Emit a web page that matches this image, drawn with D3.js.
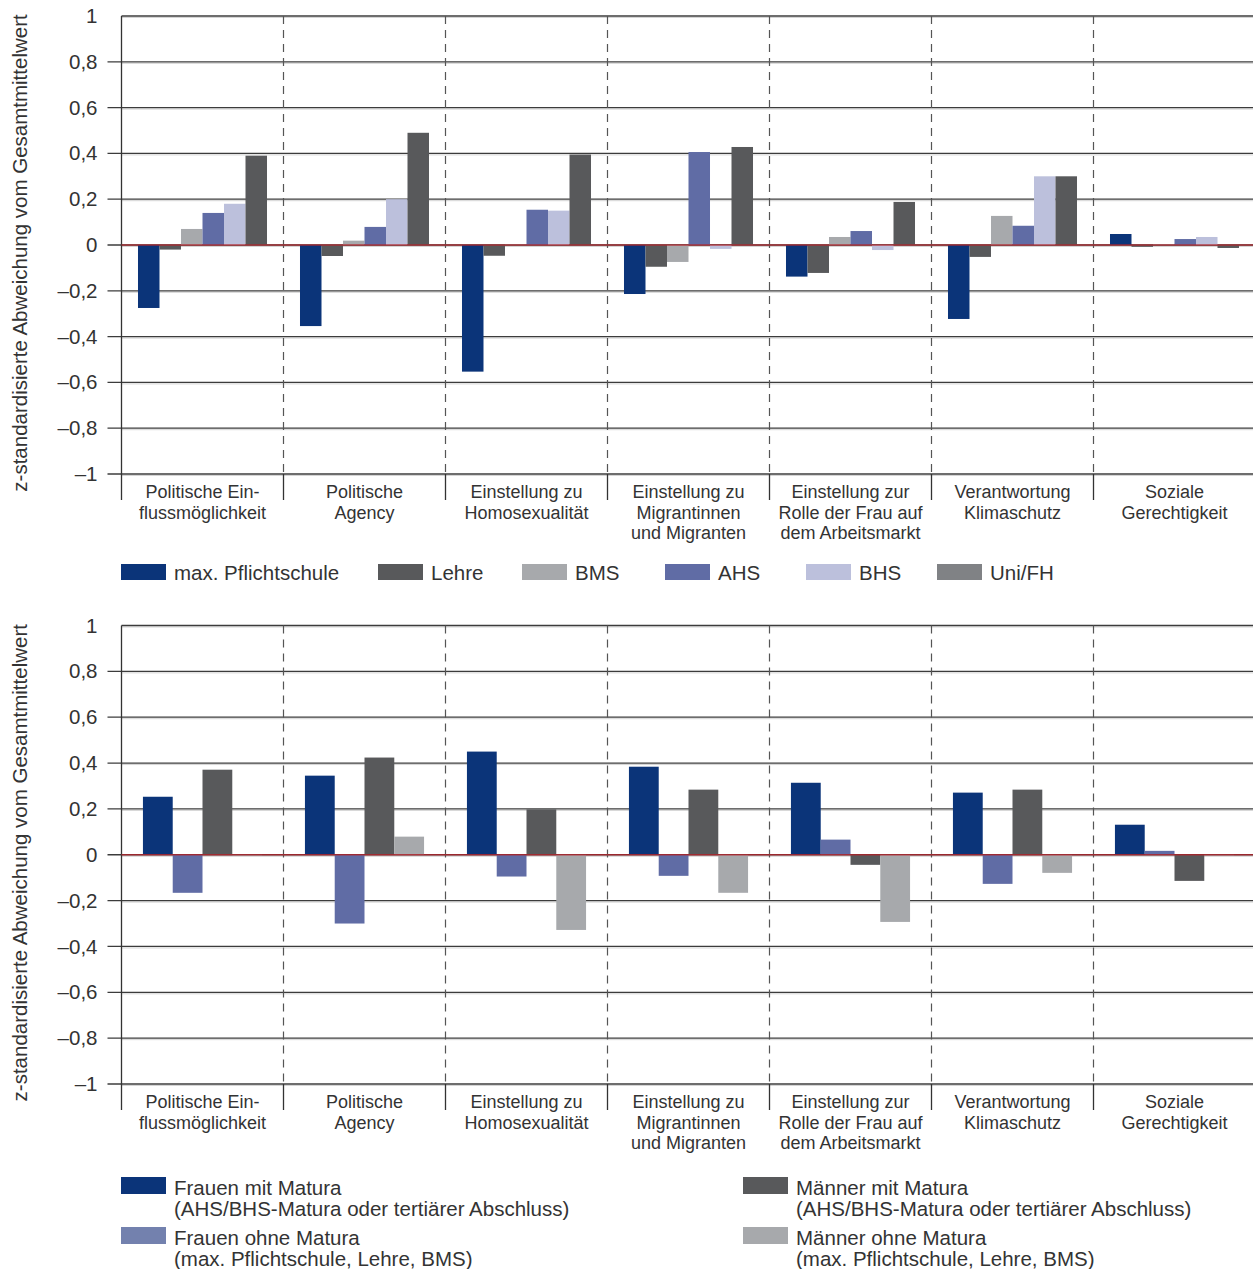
<!DOCTYPE html>
<html>
<head>
<meta charset="utf-8">
<script src="https://cdn.jsdelivr.net/npm/d3@7"></script>
<style>
  body { margin: 0; background: #fff; }
  text { font-family: "Liberation Sans", Arial, sans-serif; fill: #333; }
</style>
</head>
<body>
<svg id="chart" width="1253" height="1269"></svg>
<script>
// categories (label lines)
const categories = [
    ["Politische Ein-", "flussmöglichkeit"],
    ["Politische", "Agency"],
    ["Einstellung zu", "Homosexualität"],
    ["Einstellung zu", "Migrantinnen", "und Migranten"],
    ["Einstellung zur", "Rolle der Frau auf", "dem Arbeitsmarkt"],
    ["Verantwortung", "Klimaschutz"],
    ["Soziale", "Gerechtigkeit"]
];

// top panel: by education
const eduKeys = ["max. Pflichtschule", "Lehre", "BMS", "AHS", "BHS", "Uni/FH"];
const maxPflichtschule = [-0.275, -0.354, -0.553, -0.214, -0.138, -0.323, 0.048];
const lehre = [-0.02, -0.048, -0.047, -0.095, -0.122, -0.052, -0.008];
const bms = [0.07, 0.019, 0.002, -0.074, 0.035, 0.127, 0.003];
const ahs = [0.14, 0.079, 0.154, 0.406, 0.061, 0.084, 0.026];
const bhs = [0.18, 0.2, 0.15, -0.017, -0.022, 0.30, 0.035];
const uniFH = [0.39, 0.49, 0.395, 0.428, 0.188, 0.30, -0.013];

// bottom panel: by gender and Matura
const genderKeys = ["Frauen mit Matura", "Frauen ohne Matura", "Männer mit Matura", "Männer ohne Matura"];
const genderSub = ["(AHS/BHS-Matura oder tertiärer Abschluss)", "(max. Pflichtschule, Lehre, BMS)",
                   "(AHS/BHS-Matura oder tertiärer Abschluss)", "(max. Pflichtschule, Lehre, BMS)"];
const frauenMit = [0.253, 0.345, 0.45, 0.384, 0.314, 0.271, 0.131];
const frauenOhne = [-0.166, -0.30, -0.095, -0.092, 0.066, -0.127, 0.017];
const maennerMit = [0.371, 0.424, 0.198, 0.284, -0.044, 0.284, -0.114];
const maennerOhne = [-0.004, 0.079, -0.328, -0.166, -0.293, -0.079, -0.004];

const yTitle = "z-standardisierte Abweichung vom Gesamtmittelwert";

const W = 1253, left = 121.5, step = 162;
const svg = d3.select("#chart");

const fmt = d3.formatLocale({decimal: ",", thousands: ".", grouping: [3], currency: ["", ""], minus: "\u2013"}).format("~g");

function drawPanel(top, bottom, keys, series, colors, barPad) {
    const g = svg.append("g");
    const x = d3.scaleBand().domain(d3.range(categories.length))
        .range([left, left + step * categories.length]);
    const xi = d3.scaleBand().domain(keys).range([0, x.bandwidth()]).paddingOuter(barPad);
    const y = d3.scaleLinear().domain([-1, 1]).range([bottom, top]);
    const ticks = y.ticks(10);

    // light shadow under grid lines
    g.selectAll(".shadow").data(ticks).join("line")
        .attr("x1", left).attr("x2", W)
        .attr("y1", d => y(d) + 1.5).attr("y2", d => y(d) + 1.5)
        .attr("stroke", "#d4d4d4").attr("stroke-width", 1);

    // grid lines
    g.selectAll(".grid").data(ticks).join("line")
        .attr("x1", d => d === 1 ? left : left - 14).attr("x2", W)
        .attr("y1", d => y(d)).attr("y2", d => y(d))
        .attr("stroke", "#3c3c3c").attr("stroke-width", 1.3);

    // tick labels
    const axis = g.append("g").attr("transform", `translate(${left},0)`)
        .call(d3.axisLeft(y).tickValues(ticks).tickFormat(fmt).tickSize(14).tickPadding(10));
    axis.select(".domain").remove();
    axis.selectAll(".tick line").remove();
    axis.selectAll(".tick text").attr("font-size", 20.5)
        .attr("font-family", "\"Liberation Sans\", Arial, sans-serif").attr("fill", "#333");

    // dashed category separators
    g.selectAll(".sep").data(d3.range(1, categories.length)).join("line")
        .attr("x1", d => x(d)).attr("x2", d => x(d))
        .attr("y1", top).attr("y2", bottom)
        .attr("stroke", "#555").attr("stroke-width", 1.2).attr("stroke-dasharray", "8,6");

    // category ticks below the axis
    g.selectAll(".ctick").data(d3.range(0, categories.length + 1)).join("line")
        .attr("x1", d => left + d * step).attr("x2", d => left + d * step)
        .attr("y1", d => d === 0 ? top : bottom).attr("y2", bottom + 26)
        .attr("stroke", "#333").attr("stroke-width", 1.3);

    // bars
    series.forEach((vals, si) => {
        g.append("g").selectAll("rect").data(vals).join("rect")
            .attr("x", (d, i) => x(i) + xi(keys[si]))
            .attr("width", xi.bandwidth())
            .attr("y", d => y(Math.max(0, d)))
            .attr("height", d => Math.abs(y(d) - y(0)))
            .attr("fill", colors[si]);
    });

    // zero line
    g.append("line")
        .attr("x1", left).attr("x2", W).attr("y1", y(0)).attr("y2", y(0))
        .attr("stroke", "#b3232b").attr("stroke-width", 1.6).attr("stroke-opacity", 0.8);

    // category labels
    const lab = g.selectAll(".cat").data(categories).join("text")
        .attr("text-anchor", "middle").attr("font-size", 18).attr("fill", "#3a3a3a");
    lab.selectAll("tspan").data((d, i) => d.map(t => ({t, i}))).join("tspan")
        .attr("x", d => x(d.i) + x.bandwidth() / 2)
        .attr("y", (d, j) => bottom + 24 + j * 20.5)
        .text(d => d.t);

    // y axis title
    g.append("text")
        .attr("transform", `translate(27,${(top + bottom) / 2 + 8}) rotate(-90)`)
        .attr("text-anchor", "middle").attr("font-size", 20.5).attr("fill", "#333")
        .text(yTitle);
}

const eduColors = ["#0b3479", "#58595b", "#a7a9ac", "#606ca5", "#bcc0dc", "#58595b"];
const eduLegendColors = ["#0b3479", "#58595b", "#a7a9ac", "#606ca5", "#bcc0dc", "#808285"];
const genderColors = ["#0b3479", "#606ca5", "#58595b", "#a7a9ac"];
const genderLegendColors = ["#0b3479", "#7381ae", "#58595b", "#a7a9ac"];

drawPanel(16, 474, eduKeys, [maxPflichtschule, lehre, bms, ahs, bhs, uniFH], eduColors, 0.767);
drawPanel(625.5, 1084, genderKeys, [frauenMit, frauenOhne, maennerMit, maennerOhne], genderColors, 0.72);

// top legend
const legX = [121, 378, 522, 665, 806, 937];
const leg1 = svg.append("g").selectAll("g").data(eduKeys).join("g")
    .attr("transform", (d, i) => `translate(${legX[i]},564)`);
leg1.append("rect").attr("width", 45).attr("height", 16).attr("fill", (d, i) => eduLegendColors[i]);
leg1.append("text").attr("x", 53).attr("y", 16).attr("font-size", 20.5).text(d => d);

// bottom legend (two columns)
const leg2 = svg.append("g").selectAll("g").data(genderKeys).join("g")
    .attr("transform", (d, i) => `translate(${i < 2 ? 121 : 743},${i % 2 === 0 ? 1177 : 1227})`);
leg2.append("rect").attr("width", 45).attr("height", 17).attr("fill", (d, i) => genderLegendColors[i]);
const lt = leg2.append("text").attr("font-size", 20.5);
lt.append("tspan").attr("x", 53).attr("y", 18).text(d => d);
lt.append("tspan").attr("x", 53).attr("y", 39).text((d, i) => genderSub[i]);
</script>
</body>
</html>
